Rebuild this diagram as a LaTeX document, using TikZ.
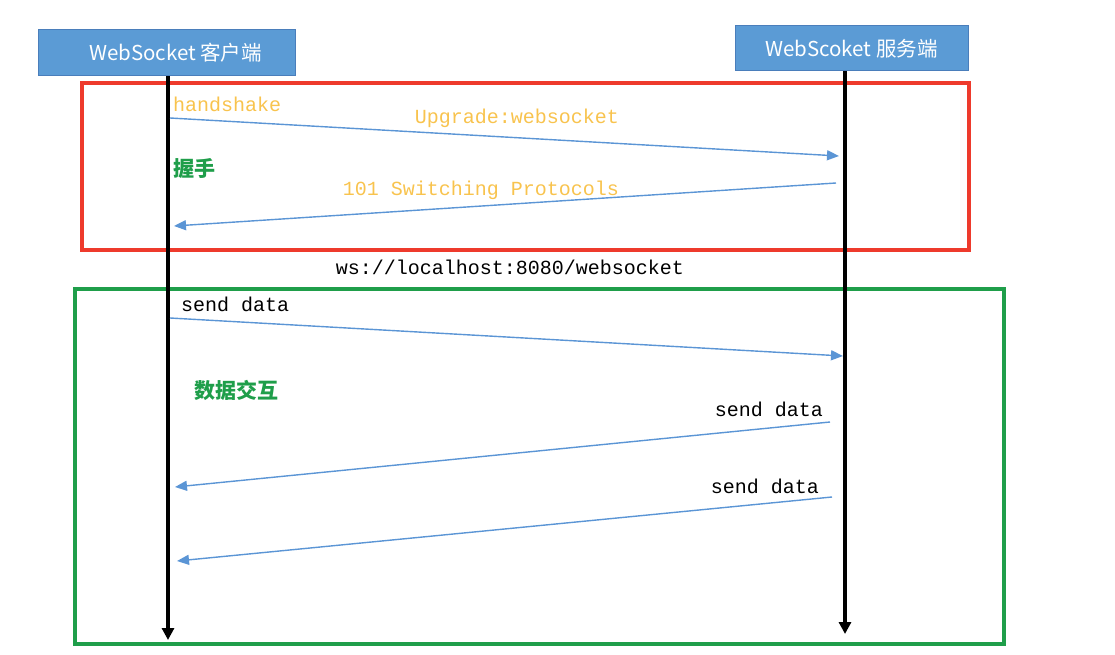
\documentclass[tikz,border=0pt]{standalone}
\usepackage{fontspec}
\setmainfont{Liberation Sans}
\setmonofont{Liberation Mono}
\newfontfamily\cjk{Noto Sans CJK SC}
\usetikzlibrary{arrows.meta, positioning}
\definecolor{boxblue}{HTML}{5B9BD5}
\definecolor{boxedge}{HTML}{4A7EBB}
\definecolor{msgblue}{HTML}{5B95D5}
\definecolor{hsred}{HTML}{EE3A2C}
\definecolor{dxgreen}{HTML}{1F9E4A}
\definecolor{hsyellow}{HTML}{F8C34E}
\tikzset{
x=1pt, y=-1pt, % one unit is one pixel of the picture, y grows downwards
every node/.style={inner sep=0pt}, % labels sit right at their coordinates
msg/.style={draw=msgblue, line width=1.4pt, -{Triangle[length=12pt, width=10pt]}}, % the messages
}

\begin{document}
\begin{tikzpicture}[party/.style = {draw=boxedge, fill=boxblue, text=white, line width=1pt, font=\cjk\fontsize{20.5}{24}\selectfont},
    lifeline/.style = {draw=black, line width=3.5pt, -{Triangle[length=12pt, width=12pt]}},
    phase/.style = {line width=3.5pt},
    mono/.style = {font=\ttfamily\fontsize{20}{24}\selectfont},
    tag/.style = {text=dxgreen, font=\cjk\bfseries\fontsize{21}{24}\selectfont}]
    \useasboundingbox (0,0) rectangle (1115,655);

    % the two parties
    \node[party, minimum width=257pt, minimum height=46pt] (client) at (166.5,53) {\hspace{18pt}WebSocket 客户端};
    \node[party, minimum width=233pt, minimum height=45pt] (server) at (851.5,48.5) {WebScoket 服务端};

    % the two phases
    \draw[phase, hsred] (82,83) rectangle (969,250);
    \draw[phase, dxgreen] (75,289) rectangle (1004,644);

    % lifelines
    \coordinate (cbot) at (168,640);
    \coordinate (sbot) at (845,634);
    \draw[lifeline] (client.south -| cbot) -- (cbot);
    \draw[lifeline] (server.south -| sbot) -- (sbot);

    % handshake
    \coordinate (h1) at (170,118);
    \coordinate (h2) at (839,156);
    \coordinate (h3) at (836,183);
    \coordinate (h4) at (174,226);
    \draw[msg] (h1) -- (h2);
    \draw[msg] (h3) -- (h4);
    \node[mono, text=hsyellow, anchor=west] (hs) at (173,104) {handshake};
    \node[mono, text=hsyellow] (upg) at (517,118) {Upgrade:websocket};
    \node[mono, text=hsyellow] (sw) at (481,190) {101 Switching Protocols};
    \node[tag, anchor=west] (wo) at (173,169) {握手};

    \node[mono] (url) at (510,267) {ws://localhost:8080/websocket};

    % data exchange
    \coordinate (d1) at (170,318);
    \coordinate (d2) at (843,356);
    \coordinate (d3) at (830,422);
    \coordinate (d4) at (175,487);
    \coordinate (d5) at (832,497);
    \coordinate (d6) at (177,561);
    \draw[msg] (d1) -- (d2);
    \draw[msg] (d3) -- (d4);
    \draw[msg] (d5) -- (d6);
    \node[mono, anchor=west] (sd1) at (181,304) {send data};
    \node[mono, anchor=east] (sd2) at (823,409) {send data};
    \node[mono, anchor=east] (sd3) at (819,486) {send data};
    \node[tag, anchor=west] (jh) at (194,390) {数据交互};
\end{tikzpicture}
\end{document}
